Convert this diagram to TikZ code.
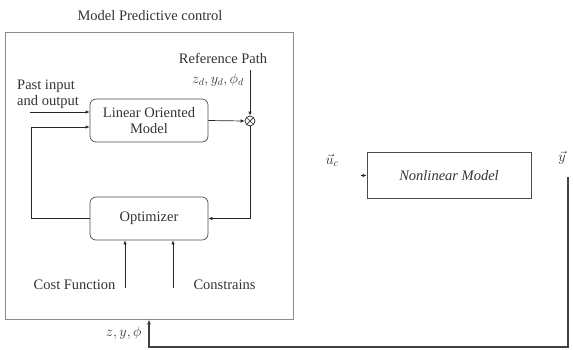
\documentclass[tikz,border=0pt]{standalone}
\usepackage{fontspec}
\setmainfont{Liberation Serif}
\usetikzlibrary{arrows.meta}
\begin{document}
\begin{tikzpicture}[x=1pt,y=-1pt,
  every node/.style={text=black!80, font=\fontsize{14.5}{16}\selectfont},
  frame/.style={draw=black!45, line width=0.7pt, minimum width=288pt, minimum height=287pt},
  block/.style={draw=black!70, line width=0.7pt, rounded corners=6pt, minimum width=118pt, minimum height=43pt, align=center},
  plant/.style={draw=black!70, line width=0.7pt, minimum width=164pt, minimum height=46pt},
  sigjoin/.style={draw=black!85, line width=0.7pt, circle, minimum size=10pt, inner sep=0pt,
    path picture={\draw[black!85, line width=0.7pt] (path picture bounding box.north west) -- (path picture bounding box.south east)
      (path picture bounding box.north east) -- (path picture bounding box.south west);}},
  sig/.style={draw=black!85, line width=0.7pt, -{Latex[length=4pt,width=3.5pt]}},
  thin/.style={draw=black!55, line width=0.7pt},
  feed/.style={draw=black!75, line width=1.4pt, -{Latex[length=5pt,width=4pt]}}]
\useasboundingbox (0,0) rectangle (573,349);
\node (title) at (150,16) {Model Predictive control};
\node[frame] (mpc) at (149,175.5) {};
\node[block] (lom) at (149,120.5) {Linear Oriented\\Model};
\node[block] (opt) at (149,218.5) {Optimizer};
\node[sigjoin] (sum) at (250,121) {};
\node (ref) at (223,58) {Reference Path};
\node (refsym) at (218,80) {$z_d, y_d, \phi_d$};
\node[align=left] (past) at (48,94) {Past input\\and output};
\node[anchor=east] (costtxt) at (119,285) {Cost Function};
\node[anchor=west] (constxt) at (190,285) {Constrains};
\node[plant] (nl) at (449,175.5) {$\mathit{Nonlinear\ Model}$};
\node (uc) at (332,160) {$\vec{u}_c$};
\node (yvec) at (562,158) {$\vec{y}$};
\node[anchor=east] (zyphi) at (145,333) {$z, y, \phi$};
\coordinate (pastin) at (30,112);
\coordinate (fbl) at (31,127);
\coordinate (reftop) at (250,70);
\coordinate (cost) at (125,288);
\coordinate (cons) at (173,288);
\coordinate (uin) at (361,175.5);
\coordinate (yout) at (568,177);
\coordinate (zin) at (149,347);
\path[sig] (pastin) -- (pastin -| lom.west);
\path[sig] (opt.west) -| (fbl) -- (fbl -| lom.west);
\path[sig] (lom.east) -- (sum.west);
\path[sig] (reftop) -- (sum.north);
\path[sig] (sum.south) |- (opt.east);
\path[sig] (cost) -- (cost |- opt.south);
\path[sig] (cons) -- (cons |- opt.south);
\path[sig] (uin) -- (nl.west);
\path[feed] (yout) |- (zin) -- (mpc.south);
\end{tikzpicture}
\end{document}
